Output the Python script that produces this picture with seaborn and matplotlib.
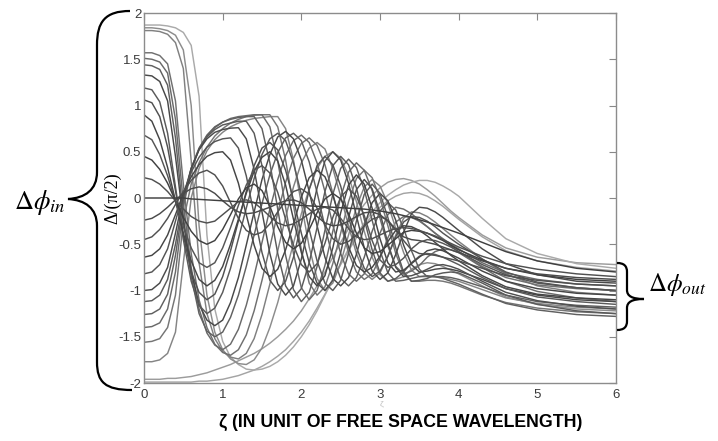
import numpy as np
import pandas as pd
import matplotlib
matplotlib.use("Agg")
import matplotlib.pyplot as plt
import matplotlib.transforms as mtransforms
from matplotlib.path import Path
from matplotlib.patches import PathPatch
import seaborn as sns

# ---- data ----
zeta = [round(0.1 * i, 1) for i in range(41)] + [4.3, 4.6, 5.0, 5.5, 6.0]

p1 = [0.22, 0.20, 0.15, 0.07, -0.03, -0.12, -0.20, -0.25, -0.27, -0.25, -0.18, -0.11, -0.04, -0.02, -0.05, -0.12, -0.20, -0.27, -0.30, -0.28, -0.23, -0.17, -0.12, -0.10, -0.13, -0.22, -0.33, -0.42, -0.45, -0.44, -0.40, -0.36, -0.33, -0.32, -0.33, -0.35, -0.38, -0.41, -0.45, -0.49, -0.53, -0.63, -0.71, -0.77, -0.82, -0.85]
p2 = [0.45, 0.41, 0.31, 0.16, -0.03, -0.21, -0.36, -0.46, -0.50, -0.46, -0.34, -0.18, -0.01, 0.11, 0.15, 0.08, -0.09, -0.31, -0.48, -0.55, -0.49, -0.34, -0.16, -0.01, 0.05, -0.01, -0.17, -0.38, -0.54, -0.60, -0.58, -0.51, -0.44, -0.37, -0.35, -0.36, -0.38, -0.42, -0.46, -0.51, -0.56, -0.67, -0.76, -0.83, -0.88, -0.90]
p3 = [0.68, 0.63, 0.47, 0.24, -0.04, -0.31, -0.54, -0.70, -0.75, -0.70, -0.54, -0.32, -0.08, 0.14, 0.30, 0.35, 0.27, 0.06, -0.23, -0.51, -0.72, -0.80, -0.71, -0.49, -0.21, 0.01, 0.10, 0.02, -0.19, -0.46, -0.67, -0.75, -0.72, -0.65, -0.55, -0.48, -0.45, -0.46, -0.49, -0.53, -0.58, -0.72, -0.83, -0.92, -0.97, -1.00]
p4 = [0.90, 0.83, 0.63, 0.33, -0.03, -0.38, -0.68, -0.88, -0.95, -0.89, -0.74, -0.50, -0.23, 0.05, 0.29, 0.44, 0.50, 0.40, 0.14, -0.23, -0.59, -0.85, -0.95, -0.84, -0.54, -0.16, 0.14, 0.25, 0.15, -0.11, -0.44, -0.70, -0.80, -0.78, -0.71, -0.64, -0.57, -0.55, -0.57, -0.61, -0.65, -0.79, -0.90, -0.98, -1.03, -1.05]
p5 = [1.06, 1.03, 0.88, 0.55, 0.08, -0.40, -0.80, -1.02, -1.10, -1.04, -0.85, -0.57, -0.25, 0.07, 0.35, 0.54, 0.60, 0.52, 0.30, -0.02, -0.38, -0.70, -0.92, -1.00, -0.89, -0.59, -0.21, 0.09, 0.20, 0.10, -0.16, -0.49, -0.75, -0.85, -0.84, -0.81, -0.77, -0.73, -0.72, -0.74, -0.77, -0.90, -1.02, -1.11, -1.17, -1.20]
p6 = [1.19, 1.17, 1.04, 0.70, 0.12, -0.45, -0.90, -1.16, -1.25, -1.19, -1.02, -0.76, -0.44, -0.11, 0.21, 0.47, 0.64, 0.70, 0.62, 0.38, 0.04, -0.34, -0.68, -0.92, -1.00, -0.89, -0.60, -0.25, 0.04, 0.15, 0.05, -0.21, -0.54, -0.80, -0.90, -0.89, -0.87, -0.83, -0.81, -0.80, -0.81, -0.92, -1.05, -1.15, -1.22, -1.25]
p7 = [1.33, 1.32, 1.26, 1.05, 0.45, -0.25, -0.80, -1.15, -1.32, -1.38, -1.32, -1.13, -0.86, -0.51, -0.15, 0.20, 0.47, 0.66, 0.72, 0.64, 0.41, 0.07, -0.30, -0.64, -0.87, -0.95, -0.86, -0.61, -0.30, -0.05, 0.05, -0.03, -0.24, -0.51, -0.72, -0.80, -0.79, -0.77, -0.76, -0.77, -0.79, -0.88, -0.98, -1.05, -1.10, -1.12]
p8 = [1.44, 1.43, 1.39, 1.22, 0.65, -0.20, -0.85, -1.25, -1.44, -1.50, -1.45, -1.29, -1.05, -0.74, -0.40, -0.06, 0.25, 0.49, 0.65, 0.70, 0.62, 0.39, 0.06, -0.31, -0.64, -0.87, -0.95, -0.86, -0.64, -0.36, -0.14, -0.05, -0.13, -0.33, -0.57, -0.77, -0.85, -0.85, -0.85, -0.86, -0.88, -0.96, -1.05, -1.12, -1.16, -1.18]
p9 = [1.51, 1.50, 1.47, 1.35, 0.85, -0.05, -0.75, -1.20, -1.46, -1.59, -1.64, -1.58, -1.42, -1.16, -0.84, -0.48, -0.12, 0.20, 0.46, 0.62, 0.68, 0.60, 0.38, 0.07, -0.29, -0.60, -0.82, -0.90, -0.82, -0.62, -0.38, -0.18, -0.10, -0.12, -0.17, -0.24, -0.31, -0.38, -0.44, -0.50, -0.55, -0.70, -0.81, -0.88, -0.93, -0.95]
p10 = [1.57, 1.57, 1.54, 1.45, 1.05, 0.15, -0.60, -1.10, -1.40, -1.58, -1.67, -1.70, -1.64, -1.48, -1.22, -0.89, -0.53, -0.16, 0.17, 0.43, 0.59, 0.65, 0.57, 0.36, 0.05, -0.28, -0.59, -0.80, -0.88, -0.82, -0.65, -0.43, -0.26, -0.20, -0.21, -0.25, -0.31, -0.38, -0.45, -0.52, -0.58, -0.74, -0.86, -0.94, -0.98, -1.00]
p11 = [1.81, 1.81, 1.80, 1.77, 1.68, 1.40, 0.40, -0.70, -1.25, -1.52, -1.66, -1.72, -1.74, -1.68, -1.52, -1.26, -0.93, -0.57, -0.21, 0.12, 0.38, 0.54, 0.60, 0.53, 0.32, 0.02, -0.30, -0.60, -0.81, -0.88, -0.81, -0.63, -0.40, -0.22, -0.15, -0.16, -0.20, -0.26, -0.33, -0.40, -0.47, -0.66, -0.82, -0.95, -1.02, -1.05]
p12 = [1.84, 1.84, 1.83, 1.81, 1.76, 1.60, 1.00, -0.30, -1.05, -1.45, -1.64, -1.74, -1.79, -1.80, -1.75, -1.62, -1.40, -1.13, -0.81, -0.49, -0.17, 0.10, 0.32, 0.45, 0.50, 0.43, 0.24, -0.04, -0.36, -0.64, -0.83, -0.90, -0.88, -0.85, -0.77, -0.72, -0.70, -0.71, -0.74, -0.78, -0.82, -0.95, -1.07, -1.15, -1.20, -1.22]
p13 = [1.87, 1.87, 1.87, 1.86, 1.84, 1.79, 1.65, 1.10, -0.40, -1.20, -1.55, -1.72, -1.80, -1.85, -1.86, -1.85, -1.82, -1.77, -1.70, -1.61, -1.50, -1.37, -1.22, -1.05, -0.88, -0.71, -0.55, -0.40, -0.27, -0.15, -0.05, 0.03, 0.09, 0.14, 0.17, 0.19, 0.19, 0.17, 0.13, 0.08, 0.02, -0.22, -0.44, -0.60, -0.71, -0.76]
z0 = [0.0, 0.0, 0.0, 0.0, 0.0, 0.0, -0.01, -0.015, -0.02, -0.025, -0.03, -0.035, -0.04, -0.045, -0.05, -0.055, -0.06, -0.065, -0.07, -0.075, -0.08, -0.085, -0.09, -0.095, -0.10, -0.105, -0.11, -0.115, -0.12, -0.13, -0.14, -0.155, -0.17, -0.19, -0.21, -0.235, -0.26, -0.29, -0.32, -0.35, -0.38, -0.48, -0.58, -0.68, -0.76, -0.80]
n1 = [-0.24, -0.22, -0.17, -0.10, -0.02, 0.05, 0.10, 0.12, 0.10, 0.05, -0.03, -0.10, -0.15, -0.17, -0.16, -0.13, -0.10, -0.06, -0.03, -0.02, -0.05, -0.12, -0.20, -0.27, -0.30, -0.29, -0.25, -0.20, -0.16, -0.15, -0.18, -0.25, -0.35, -0.42, -0.45, -0.46, -0.48, -0.50, -0.53, -0.56, -0.59, -0.68, -0.76, -0.82, -0.86, -0.88]
n2 = [-0.45, -0.42, -0.34, -0.22, -0.07, 0.07, 0.19, 0.27, 0.30, 0.25, 0.13, -0.05, -0.22, -0.35, -0.40, -0.37, -0.28, -0.15, -0.03, 0.07, 0.10, 0.04, -0.11, -0.29, -0.44, -0.50, -0.47, -0.40, -0.30, -0.23, -0.20, -0.24, -0.34, -0.46, -0.56, -0.60, -0.61, -0.62, -0.64, -0.66, -0.68, -0.76, -0.84, -0.89, -0.93, -0.95]
n3 = [-0.64, -0.62, -0.55, -0.40, -0.18, 0.05, 0.23, 0.36, 0.45, 0.49, 0.50, 0.41, 0.16, -0.18, -0.51, -0.76, -0.85, -0.77, -0.56, -0.28, 0.01, 0.22, 0.30, 0.23, 0.03, -0.25, -0.53, -0.73, -0.80, -0.75, -0.63, -0.47, -0.35, -0.30, -0.31, -0.35, -0.41, -0.48, -0.55, -0.62, -0.68, -0.84, -0.96, -1.04, -1.08, -1.10]
n4 = [-0.82, -0.80, -0.72, -0.55, -0.25, 0.05, 0.28, 0.44, 0.55, 0.61, 0.64, 0.65, 0.54, 0.24, -0.18, -0.59, -0.89, -1.00, -0.90, -0.64, -0.28, 0.09, 0.35, 0.45, 0.36, 0.13, -0.20, -0.53, -0.76, -0.85, -0.79, -0.63, -0.42, -0.26, -0.20, -0.21, -0.25, -0.31, -0.38, -0.44, -0.50, -0.66, -0.80, -0.91, -0.97, -1.00]
n5 = [-1.00, -0.99, -0.92, -0.75, -0.38, 0.02, 0.32, 0.52, 0.64, 0.71, 0.74, 0.755, 0.76, 0.64, 0.31, -0.15, -0.60, -0.93, -1.05, -0.95, -0.66, -0.28, 0.11, 0.40, 0.50, 0.41, 0.16, -0.19, -0.54, -0.79, -0.88, -0.81, -0.61, -0.37, -0.17, -0.10, -0.11, -0.15, -0.21, -0.28, -0.35, -0.55, -0.71, -0.83, -0.90, -0.92]
n6 = [-1.12, -1.11, -1.05, -0.88, -0.50, -0.02, 0.32, 0.53, 0.66, 0.74, 0.79, 0.81, 0.83, 0.83, 0.70, 0.35, -0.13, -0.60, -0.95, -1.08, -0.98, -0.70, -0.32, 0.07, 0.35, 0.45, 0.36, 0.11, -0.23, -0.56, -0.81, -0.90, -0.87, -0.80, -0.70, -0.63, -0.60, -0.61, -0.64, -0.68, -0.72, -0.86, -0.98, -1.07, -1.12, -1.15]
n7 = [-1.26, -1.25, -1.20, -1.04, -0.62, -0.05, 0.32, 0.54, 0.68, 0.77, 0.82, 0.85, 0.87, 0.88, 0.88, 0.75, 0.38, -0.12, -0.62, -0.99, -1.12, -1.02, -0.74, -0.35, 0.04, 0.32, 0.42, 0.33, 0.09, -0.24, -0.57, -0.81, -0.90, -0.89, -0.87, -0.85, -0.84, -0.85, -0.87, -0.90, -0.93, -1.04, -1.14, -1.21, -1.26, -1.28]
n8 = [-1.40, -1.39, -1.35, -1.20, -0.80, -0.10, 0.30, 0.53, 0.67, 0.76, 0.82, 0.86, 0.88, 0.89, 0.90, 0.90, 0.77, 0.40, -0.10, -0.60, -0.97, -1.10, -1.00, -0.73, -0.36, 0.01, 0.28, 0.38, 0.30, 0.08, -0.22, -0.52, -0.74, -0.82, -0.79, -0.73, -0.64, -0.58, -0.55, -0.56, -0.59, -0.75, -0.90, -1.01, -1.08, -1.12]
n9 = [-1.56, -1.55, -1.52, -1.40, -1.05, -0.25, 0.15, 0.38, 0.55, 0.67, 0.75, 0.81, 0.85, 0.88, 0.895, 0.90, 0.90, 0.77, 0.41, -0.08, -0.56, -0.92, -1.05, -0.96, -0.71, -0.38, -0.04, 0.21, 0.30, 0.22, 0.00, -0.30, -0.60, -0.82, -0.90, -0.90, -0.89, -0.89, -0.90, -0.92, -0.95, -1.05, -1.13, -1.19, -1.23, -1.25]
n10 = [-1.77, -1.77, -1.75, -1.68, -1.45, -0.70, 0.00, 0.32, 0.51, 0.63, 0.71, 0.77, 0.81, 0.84, 0.86, 0.87, 0.88, 0.88, 0.75, 0.41, -0.06, -0.53, -0.87, -1.00, -0.92, -0.70, -0.40, -0.10, 0.12, 0.20, 0.13, -0.06, -0.33, -0.59, -0.78, -0.85, -0.85, -0.85, -0.86, -0.88, -0.90, -0.99, -1.08, -1.14, -1.18, -1.20]
n11 = [-1.96, -1.96, -1.96, -1.95, -1.95, -1.94, -1.93, -1.91, -1.89, -1.86, -1.83, -1.80, -1.76, -1.72, -1.68, -1.63, -1.57, -1.50, -1.42, -1.33, -1.22, -1.09, -0.95, -0.80, -0.64, -0.48, -0.33, -0.19, -0.07, 0.03, 0.11, 0.17, 0.20, 0.21, 0.19, 0.15, 0.09, 0.02, -0.06, -0.14, -0.21, -0.40, -0.54, -0.64, -0.70, -0.72]
n12 = [-1.99, -1.99, -1.99, -1.99, -1.99, -1.99, -1.99, -1.98, -1.98, -1.97, -1.96, -1.94, -1.92, -1.89, -1.86, -1.82, -1.77, -1.71, -1.64, -1.55, -1.45, -1.33, -1.19, -1.04, -0.88, -0.72, -0.57, -0.43, -0.30, -0.19, -0.10, -0.03, 0.02, 0.05, 0.06, 0.05, 0.02, -0.03, -0.09, -0.16, -0.23, -0.42, -0.57, -0.68, -0.75, -0.79]

curves = {
    "n12": n12, "n11": n11, "p13": p13, "p12": p12, "p11": p11, "p10": p10,
    "n10": n10, "n9": n9, "p9": p9, "p8": p8, "n8": n8, "n7": n7,
    "p7": p7, "p6": p6, "n6": n6, "n5": n5, "p5": p5, "p4": p4,
    "n4": n4, "n3": n3, "p3": p3, "p2": p2, "n2": n2, "n1": n1,
    "p1": p1, "z0": z0,
}
grays = {
    "p1": "#505050", "p2": "#404040", "p3": "#555555", "p4": "#454545",
    "p5": "#505050", "p6": "#5a5a5a", "p7": "#484848", "p8": "#606060",
    "p9": "#6a6a6a", "p10": "#707070", "p11": "#808080", "p12": "#8c8c8c",
    "p13": "#aaaaaa", "z0": "#404040", "n1": "#4a4a4a", "n2": "#505050",
    "n3": "#454545", "n4": "#555555", "n5": "#4a4a4a", "n6": "#5a5a5a",
    "n7": "#606060", "n8": "#6a6a6a", "n9": "#757575", "n10": "#858585",
    "n11": "#9c9c9c", "n12": "#a4a4a4",
}

xticks = [0, 1, 2, 3, 4, 5, 6]
yticks = [-2, -1.5, -1, -0.5, 0, 0.5, 1, 1.5, 2]
ytick_labels = ["-2", "-1.5", "-1", "-0.5", "0", "0.5", "1", "1.5", "2"]

rows = []
for name, vals in curves.items():
    assert len(vals) == len(zeta), (name, len(vals))
    for xv, yv in zip(zeta, vals):
        rows.append((name, xv, yv))
df = pd.DataFrame(rows, columns=["curve", "zeta", "delta"])

# ---- drawing ----
sns.set_style("white")
plt.rcParams["font.family"] = ["Liberation Sans", "DejaVu Sans"]
plt.rcParams["mathtext.fontset"] = "stix"
plt.rcParams["text.color"] = "black"

fig = plt.figure(figsize=(7.18, 4.41), dpi=100)
ax = fig.add_axes([144 / 718, 1 - 383 / 441, (616 - 144) / 718, (383 - 13) / 441])

sns.lineplot(data=df, x="zeta", y="delta", hue="curve", palette=grays,
             hue_order=list(curves.keys()), estimator=None, sort=False,
             legend=False, linewidth=1.05, ax=ax)

ax.set_xlim(0, 6)
ax.set_ylim(-2, 2)
ax.set_xticks(xticks)
ax.set_xticklabels([str(t) for t in xticks])
ax.set_yticks(yticks)
ax.set_yticklabels(ytick_labels)
ax.set_xlabel("")
ax.set_ylabel("")
ax.tick_params(direction="in", length=5, width=0.8, color="#888888",
               labelcolor="#3a3a3a", labelsize=9.5, top=True, right=True,
               labeltop=False, labelright=False)
ax.tick_params(axis="y", pad=2)
ax.tick_params(axis="x", pad=4)
for s in ax.spines.values():
    s.set_color("#8c8c8c")
    s.set_linewidth(1.0)

# axis titles
fig.text(113 / 718, 1 - 198 / 441, "Δ/(π/2)", rotation=90, ha="center",
         va="center", fontsize=13, color="black",
         family=["Liberation Serif", "DejaVu Serif"])
fig.text(401 / 718, 1 - 422 / 441, "ζ (IN UNIT OF FREE SPACE WAVELENGTH)",
         ha="center", va="center", fontsize=12.8, fontweight="bold",
         color="black")
fig.text(381 / 718, 1 - 404 / 441, "ζ", ha="center", va="center",
         fontsize=6, color="#bbbbbb")

# braces (pixel coordinates, y downward)
px = mtransforms.Affine2D().scale(1 / 718, -1 / 441).translate(0, 1) + fig.transFigure

def brace(points):
    codes = [Path.MOVETO]
    verts = [points[0][1]]
    for kind, *pts in points[1:]:
        if kind == "L":
            codes.append(Path.LINETO)
            verts.append(pts[0])
        else:
            codes += [Path.CURVE4] * 3
            verts += list(pts)
    return Path(verts, codes)

left = brace([
    ("M", (130, 11)),
    ("C", (105, 11), (97, 22), (97, 45)),
    ("L", (97, 172)),
    ("C", (97, 190), (85, 198), (68, 199)),
    ("C", (85, 200), (97, 208), (97, 226)),
    ("L", (97, 362)),
    ("C", (97, 382), (105, 390), (132, 390)),
])
right = brace([
    ("M", (617, 263)),
    ("C", (624, 263), (627, 266), (627, 272)),
    ("L", (627, 290)),
    ("C", (627, 296), (632, 299), (644, 299)),
    ("C", (632, 299), (627, 302), (627, 308)),
    ("L", (627, 321)),
    ("C", (627, 327), (624, 330), (617, 330)),
])
for pth in (left, right):
    fig.patches.append(PathPatch(pth, transform=px, facecolor="none",
                                 edgecolor="black", linewidth=1.6))

fig.text(40 / 718, 1 - 203 / 441, r"$\Delta\phi_{in}$", ha="center",
         va="center", fontsize=19, color="black")
fig.text(677 / 718, 1 - 284 / 441, r"$\Delta\phi_{out}$", ha="center",
         va="center", fontsize=18, color="black")

fig.savefig("out.png", dpi=100)
